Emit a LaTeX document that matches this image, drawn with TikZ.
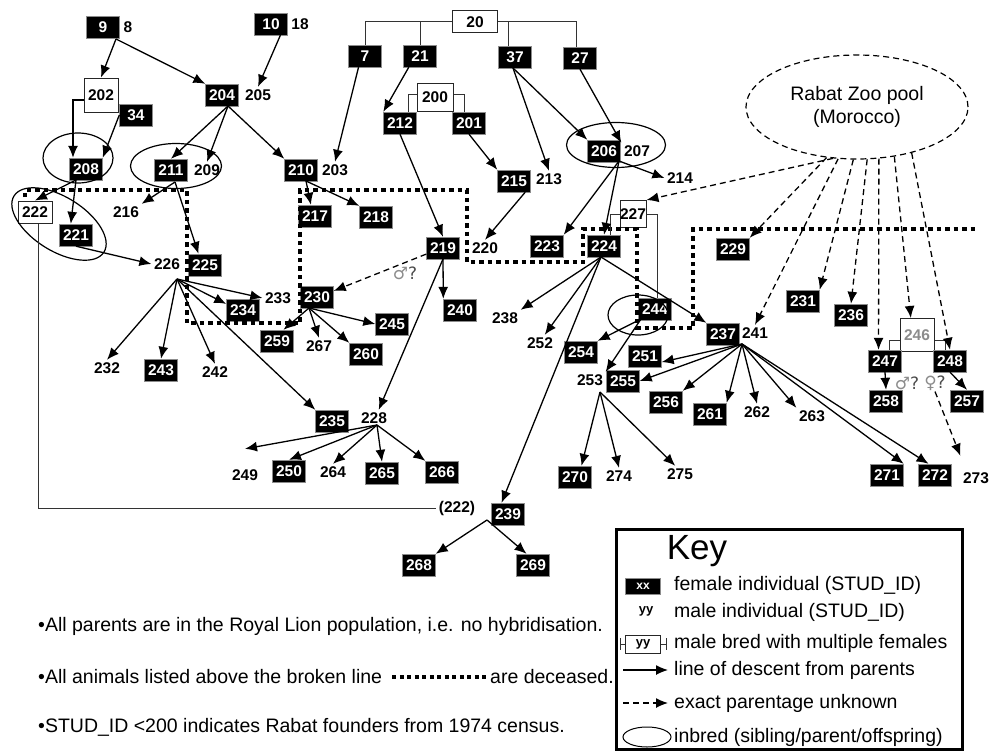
\documentclass[tikz,border=0pt]{standalone}
\usepackage{fontspec}
\setmainfont{Liberation Sans}
\newfontfamily\symfont{DejaVu Sans}
\usepackage{tikz}
\usetikzlibrary{arrows.meta,shapes.geometric}

\newcommand{\numfont}{\fontsize{15.5}{15.5}\selectfont\bfseries}
\newcommand{\txtfont}{\fontsize{19.5}{23}\selectfont}

\tikzset{
  fem/.style={shape=rectangle,draw=black!45,fill=black,text=white,font=\numfont,minimum width=33pt,minimum height=22pt,inner sep=0pt},
  mal/.style={font=\numfont,inner sep=2.5pt},
  stud/.style={shape=rectangle,draw=black!85,line width=1pt,fill=white,font=\numfont,minimum width=34pt,minimum height=22pt,inner sep=0pt},
  sexq/.style={font=\symfont\fontsize{17}{17}\selectfont,inner sep=1pt},
  inbred/.style={shape=ellipse,draw=black,line width=1.2pt,inner sep=0pt},
  keytxt/.style={font=\txtfont,anchor=west,inner sep=0pt},
  desc/.style={-{Latex[length=12pt,width=10pt]},line width=1.3pt},
  unk/.style={desc,dash pattern=on 6pt off 4pt},
  bracket/.style={line width=1pt,draw=black!80},
  deceased/.style={line width=4.5pt,dash pattern=on 4.5pt off 4pt},
}

\begin{document}
\begin{tikzpicture}[x=1pt,y=-1pt]
    \useasboundingbox (0,0) rectangle (995,752);

    % founders
    \node[fem] (n9)  at (103,27) {9};
    \node[mal] (m8)  at (128,27) {8};
    \node[fem] (n10) at (271,24) {10};
    \node[mal] (m18) at (300,24) {18};
    \node[stud,minimum width=45pt] (s20) at (475,22) {20};
    \node[fem] (n7)  at (365,56) {7};
    \node[fem] (n21) at (420,56) {21};
    \node[fem] (n37) at (515,57) {37};
    \node[fem] (n27) at (580,58) {27};

    % second row
    \node[stud,minimum height=34pt] (s202) at (101,95) {202};
    \node[fem] (n34)  at (136,115) {34};
    \node[fem] (n204) at (222,95) {204};
    \node[mal] (m205) at (258,95) {205};
    \node[stud,minimum width=36pt,minimum height=28pt] (s200) at (435,97) {200};
    \node[fem] (n212) at (400,123) {212};
    \node[fem] (n201) at (469,123) {201};
    \node[fem] (n208) at (86,169) {208};
    \node[fem] (n211) at (171,170) {211};
    \node[mal] (m209) at (207,170) {209};
    \node[fem] (n210) at (301,170) {210};
    \node[mal] (m203) at (335,170) {203};
    \node[fem] (n215) at (514,181) {215};
    \node[mal] (m213) at (549,179) {213};
    \node[fem] (n206) at (604,151) {206};
    \node[mal] (m207) at (637,151) {207};
    \node[mal] (m214) at (680,178) {214};

    % third row
    \node[stud] (s222) at (35,212) {222};
    \node[fem] (n221) at (76,235) {221};
    \node[mal] (m216) at (126,212) {216};
    \node[fem] (n217) at (315,216) {217};
    \node[fem] (n218) at (376,217) {218};
    \node[fem] (n219) at (443,248) {219};
    \node[mal] (m220) at (485,248) {220};
    \node[fem] (n223) at (547,246) {223};
    \node[fem] (n224) at (604,246) {224};
    \node[stud,minimum width=26pt,minimum height=27pt] (s227) at (633,214) {227};
    \node[fem] (n229) at (733,249) {229};
    \node[shape=ellipse,draw,line width=1.2pt,dash pattern=on 6pt off 4pt,minimum width=222pt,minimum height=104pt,align=center,font=\txtfont] (rabat) at (857,107) {Rabat Zoo pool\\(Morocco)};

    % fourth row
    \node[mal] (m226) at (167,264) {226};
    \node[fem] (n225) at (205,265) {225};
    \node[mal] (m233) at (278,298) {233};
    \node[fem] (n234) at (243,310) {234};
    \node[fem] (n230) at (317,297) {230};
    \node[sexq] (q219) at (405,273) {\textcolor{black!45}{♂}\textcolor{black!70}{?}};
    \node[fem] (n259) at (277,341) {259};
    \node[mal] (m267) at (319,346) {267};
    \node[fem] (n260) at (366,354) {260};
    \node[fem] (n245) at (392,324) {245};
    \node[fem] (n240) at (460,310) {240};
    \node[mal] (m238) at (505,318) {238};
    \node[mal] (m252) at (540,343) {252};
    \node[fem] (n244) at (655,309) {244};
    \node[fem] (n237) at (723,334) {237};
    \node[mal] (m241) at (755,333) {241};
    \node[fem] (n231) at (803,301) {231};
    \node[fem] (n236) at (851,315) {236};
    \node[stud,minimum height=33pt,text=black!45] (s246) at (917,335) {246};
    \node[fem] (n247) at (885,361) {247};
    \node[fem] (n248) at (950,361) {248};
    \node[sexq] (q247) at (907,383) {\textcolor{black!45}{♂}\textcolor{black!70}{?}};
    \node[sexq] (q248) at (935,383) {\textcolor{black!45}{♀}\textcolor{black!70}{?}};
    \node[fem] (n258) at (886,401) {258};
    \node[fem] (n257) at (967,401) {257};

    % fifth row
    \node[mal] (m232) at (107,368) {232};
    \node[fem] (n243) at (161,370) {243};
    \node[mal] (m242) at (215,372) {242};
    \node[fem] (n251) at (645,356) {251};
    \node[fem] (n254) at (581,352) {254};
    \node[mal] (m253) at (590,380) {253};
    \node[fem] (n255) at (623,381) {255};
    \node[fem] (n256) at (666,402) {256};
    \node[fem] (n261) at (710,414) {261};
    \node[mal] (m262) at (757,412) {262};
    \node[mal] (m263) at (812,416) {263};
    \node[fem] (n235) at (332,421) {235};
    \node[mal] (m228) at (374,418) {228};

    % sixth row
    \node[mal] (m249) at (245,475) {249};
    \node[fem] (n250) at (289,471) {250};
    \node[mal] (m264) at (333,472) {264};
    \node[fem] (n265) at (382,473) {265};
    \node[fem] (n266) at (442,472) {266};
    \node[fem] (n270) at (575,477) {270};
    \node[mal] (m274) at (619,476) {274};
    \node[mal] (m275) at (680,474) {275};
    \node[fem] (n271) at (887,475) {271};
    \node[fem] (n272) at (935,475) {272};
    \node[mal] (m273) at (976,478) {273};
    \node[mal] (m222b) at (457,508) {(222)};
    \node[fem] (n239) at (508,514) {239};
    \node[fem] (n268) at (419,565) {268};
    \node[fem] (n269) at (533,565) {269};

    % inbred rings
    \node[inbred,minimum width=70pt,minimum height=50pt] (e208) at (78,158) {};
    \node[inbred,minimum width=91pt,minimum height=45pt] (e211) at (176,166) {};
    \node[inbred,minimum width=106pt,minimum height=54pt,rotate=-32] (e222) at (59,224) {};
    \node[inbred,minimum width=99pt,minimum height=45pt] (e206) at (616,145) {};
    \node[inbred,minimum width=60pt,minimum height=40pt] (e244) at (638,315) {};

    % broken line
    \draw[deceased] (25,197) -- (25,190) -- (187,190) -- (187,323) -- (300,323) -- (300,190)
        -- (467,190) -- (467,262) -- (583,262) -- (583,229) -- (637,229) -- (637,328)
        -- (693,328) -- (693,229) -- (978,229);

    % fan points
    \coordinate (f9)   at (116,39);
    \coordinate (f204) at (228,106);
    \coordinate (f208) at (76,180);
    \coordinate (f211) at (175,182);
    \coordinate (f210) at (306,181);
    \coordinate (f226) at (177,279);
    \coordinate (f37)  at (513,68);
    \coordinate (f206) at (619,161);
    \coordinate (f219) at (443,259);
    \coordinate (f224) at (601,257);
    \coordinate (f230) at (309,308);
    \coordinate (f244) at (641,319);
    \coordinate (f237) at (742,344);
    \coordinate (f253) at (600,392);
    \coordinate (f228) at (377,425);
    \coordinate (f239) at (487,520);

    \draw[bracket] (s20.west) -| (n7.north);
    \draw[bracket] (s20.west) -| (n21.north);
    \draw[bracket] (s20.east) -| ([xshift=-7pt]n37.north);
    \draw[bracket] (s20.east) -| ([xshift=-4pt]n27.north);
    \draw[bracket] ([yshift=3pt]s200.west) -| ([xshift=8pt]n212.north);
    \draw[bracket] ([yshift=3pt]s200.east) -| ([xshift=-5pt]n201.north);
    \draw[bracket] (s227.west) -| ([xshift=6pt]n224.north);
    \draw[bracket] (s227.east) -| ([xshift=2pt]n244.north);
    \draw[bracket] ([yshift=-5pt]s246.west) -| ([xshift=4pt]n247.north);
    \draw[bracket] ([yshift=-5pt]s246.east) -| ([xshift=-5pt]n248.north);
    \draw[bracket] ([xshift=3pt]s222.south) |- (m222b.west);

    \path[desc] (f9) edge (s202.north) edge (n204.north west);
    \path[desc] (n10.-50) edge (m205.north);
    \path[desc] (n34.west) edge (n208.north east);
    \draw[desc] ([yshift=-5pt]s202.west) -| ([xshift=-13pt]n208.north);
    \path[desc] (f204) edge (n211.north) edge (m209.north) edge (n210.north west);
    \path[desc] (f208) edge (s222.north) edge (n221.115);
    \path[desc] (f211) edge (m216.north east) edge (n225.120);
    \path[desc] (n221.south) edge (m226.west);
    \path[desc] (f226) edge (m232.north) edge (n243.north) edge (m242.north)
        edge (n235.north west) edge (n234.160) edge (m233.west);
    \path[desc] (n7.-120) edge (m203.north);
    \path[desc] (n21.-135) edge (n212.north west);
    \path[desc] (n212.south) edge (n219.north);
    \path[desc] (n201.south) edge (n215.north west);
    \path[desc] (f37) edge (m213.north) edge (n206.north west);
    \path[desc] (n27.south) edge (m207.north west);
    \path[desc] (n215.-45) edge (m220.north);
    \path[desc] (f206) edge (m214.west) edge (n223.north east) edge (n224.north);
    \path[desc] (f210) edge (n217.110) edge (n218.north west);
    \path[desc] (f219) edge (n240.north west) edge (m228.60);
    \path[unk]  (n219.200) edge (n230.20);
    \path[desc] (f230) edge (n259.60) edge (m267.north) edge (n260.north west) edge (n245.west);
    \path[desc] (f224) edge (m238.north east) edge (m252.60) edge (n239.120) edge (n237.north west);
    \path[desc] (f244) edge (n254.north east) edge (m253.north east);
    \path[desc] (f237) edge (n251.-20) edge (n255.east) edge (n256.north east) edge (n261.north east)
        edge (m262.north) edge (m263.north west) edge (n271.north east) edge (n272.120);
    \path[desc] (f253) edge (n270.60) edge (m274.north) edge (m275.120);
    \path[desc] (n247.south) edge (n258.north);
    \path[desc] (n248.south) edge (n257.north);
    \path[unk]  (q248.south) edge ([yshift=14pt]m273.north west);
    \path[desc] (f228) edge ([yshift=18pt]m249.north) edge (n250.north) edge (m264.north)
        edge (n265.north) edge (n266.north west);
    \path[desc] (f239) edge (n268.north east) edge (n269.120);

    \path[unk] (rabat.245) edge (s227.north east);
    \path[unk] (rabat.239) edge (n229.north east);
    \path[unk] (rabat.250) edge (m241.north);
    \path[unk] (rabat.266) edge (n231.north east);
    \path[unk] (rabat.281) edge (n236.north);
    \path[unk] (rabat.293) edge (n247.120);
    \path[unk] (rabat.307) edge (s246.110);
    \path[unk] (rabat.320) edge (n248.north);

    % notes
    \node[keytxt] (b1)  at (38,626) {•All parents are in the Royal Lion population, i.e. no hybridisation.};
    \node[keytxt] (b2)  at (38,677) {•All animals listed above the broken line};
    \node[keytxt] (b2e) at (490,677) {are deceased.};
    \node[keytxt] (b3)  at (38,727) {•STUD\_ID <200 indicates Rabat founders from 1974 census.};
    \draw[deceased,line width=4pt,dash pattern=on 4pt off 3.5pt] ([xshift=10pt]b2.east) -- ([xshift=-4pt]b2e.west);

    % key
    \draw[line width=3pt] (616,529) rectangle (962,749);
    \node[font=\fontsize{35}{35}\selectfont] (keyt) at (697,551) {Key};
    \node[fem,font=\fontsize{12}{12}\selectfont\bfseries,minimum width=35pt,minimum height=16pt] (kf) at (643,586) {xx};
    \node[keytxt] (kft) at (674,585) {female individual (STUD\_ID)};
    \node[mal,font=\fontsize{13}{13}\selectfont\bfseries] (km) at (646,611) {yy};
    \node[keytxt] (kmt) at (674,612) {male individual (STUD\_ID)};
    \node[stud,font=\fontsize{13}{13}\selectfont\bfseries,minimum width=35pt,minimum height=18pt] (ks) at (643,644) {yy};
    \draw[bracket] ([xshift=-5pt,yshift=6pt]ks.west) -- ([xshift=-5pt,yshift=-6pt]ks.west);
    \draw[bracket] ([xshift=-5pt]ks.west) -- (ks.west);
    \draw[bracket] ([xshift=5pt,yshift=6pt]ks.east) -- ([xshift=5pt,yshift=-6pt]ks.east);
    \draw[bracket] ([xshift=5pt]ks.east) -- (ks.east);
    \node[keytxt] (kst) at (674,643) {male bred with multiple females};
    \coordinate (kd1) at (623,670);
    \coordinate (kd2) at (668,670);
    \draw[desc] (kd1) -- (kd2);
    \node[keytxt] (kdt) at (674,670) {line of descent from parents};
    \coordinate (ku1) at (623,703);
    \coordinate (ku2) at (668,703);
    \draw[unk] (ku1) -- (ku2);
    \node[keytxt] (kut) at (674,703) {exact parentage unknown};
    \node[inbred,line width=1pt,minimum width=48pt,minimum height=20pt] (ke) at (647,737) {};
    \node[keytxt] (ket) at (674,737) {inbred (sibling/parent/offspring)};
\end{tikzpicture}
\end{document}
